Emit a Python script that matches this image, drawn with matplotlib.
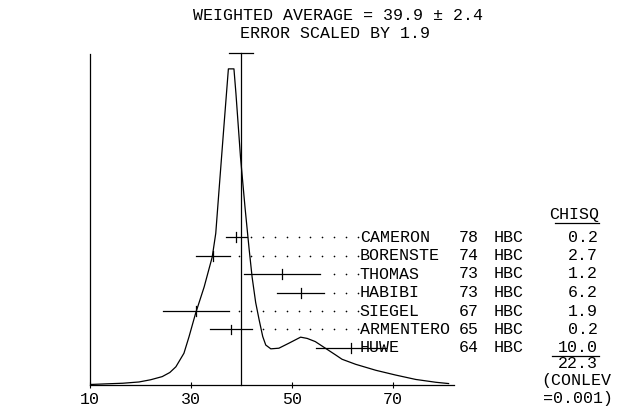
import numpy as np
import matplotlib
matplotlib.use("Agg")
import matplotlib.pyplot as plt
from matplotlib.lines import Line2D

# ---- data ----
names = ["CAMERON", "BORENSTE", "THOMAS", "HABIBI", "SIEGEL", "ARMENTERO", "HUWE"]
years = ["78", "74", "73", "73", "67", "65", "64"]
techs = ["HBC", "HBC", "HBC", "HBC", "HBC", "HBC", "HBC"]
values = [39.0, 34.4, 48.0, 51.7, 31.0, 37.9, 61.7]
errors = [2.0, 3.4, 7.6, 4.7, 6.5, 4.2, 6.9]
chisq = ["0.2", "2.7", "1.2", "6.2", "1.9", "0.2", "10.0"]
chisq_total = "22.3"
conlev = "0.001"
wavg = 39.9
werr = 2.4
scale_factor = 1.9
xticks = [10, 30, 50, 70]

# ideogram curve (relative height, peak = 1)
ideo_x = [10.0, 13.1, 16.5, 19.7, 22.0, 24.3, 25.8, 27.0, 28.6, 29.6, 30.9, 32.6,
          34.2, 34.9, 35.5, 36.5, 37.4, 38.5, 38.9, 39.8, 40.7, 41.5, 42.1, 42.8,
          43.5, 44.2, 44.8, 45.8, 47.4, 49.4, 51.7, 53.0, 54.6, 56.6, 58.6, 59.9,
          62.6, 66.6, 70.5, 74.5, 78.5, 81.0]
ideo_y = [0.0, 0.002, 0.004, 0.008, 0.015, 0.025, 0.038, 0.056, 0.099, 0.151, 0.225, 0.309,
          0.404, 0.479, 0.606, 0.815, 1.0, 1.0, 0.921, 0.72, 0.56, 0.43, 0.34, 0.26,
          0.204, 0.152, 0.125, 0.113, 0.115, 0.131, 0.150, 0.146, 0.136, 0.115, 0.094, 0.080,
          0.064, 0.045, 0.030, 0.016, 0.007, 0.003]

W, H = 621, 408
fig = plt.figure(figsize=(W / 100, H / 100), dpi=100)
FONT = "Liberation Mono"
FS = 12

# axes geometry in pixels
x0_px, x1_px = 90, 449.6
ytop_px, ybot_px = 54, 384.5
ax = fig.add_axes([x0_px / W, 1 - ybot_px / H, (x1_px - x0_px) / W, (ybot_px - ytop_px) / H])
ax.set_xlim(10, 81.2)
ax.set_ylim(0, 1)

# ideogram
peak = 0.955
ax.plot(ideo_x, np.array(ideo_y) * peak, color="black", lw=0.9)

# weighted average line with error "T"
ax.plot([wavg, wavg], [0, 1.003], color="black", lw=0.9, clip_on=False)
ax.plot([wavg - werr, wavg + werr], [1.003, 1.003], color="black", lw=0.9, clip_on=False)

# measurement rows
row_top = 0.445
row_step = 0.0557
dot_end = 63.0
dot_step = 2.34
text_x = 63.4
for i, (v, e) in enumerate(zip(values, errors)):
    y = row_top - i * row_step
    ax.plot([v - e, v + e], [y, y], color="black", lw=0.9)
    ax.plot([v, v], [y - 0.015, y + 0.015], color="black", lw=0.9)
    k = 0
    while True:
        dx = dot_end - k * dot_step
        if dx <= max(v + e + 0.8, wavg - 0.5):
            break
        ax.plot([dx], [y], marker="o", ms=1.2, color="black", mec="none")
        k += 1
    ax.text(text_x, y, names[i], fontsize=FS, family=FONT, va="center", ha="left")

# table columns (figure pixels)
def ftext(px, py, s, ha="left"):
    fig.text(px / W, 1 - py / H, s, fontsize=FS, family=FONT, va="center", ha=ha)

row_px = [237 + i * 18.5 for i in range(len(names))]
for i in range(len(names)):
    ftext(459, row_px[i], years[i])
    ftext(494, row_px[i], techs[i])
    ftext(598, row_px[i], chisq[i], ha="right")
ftext(599, 215, "CHISQ", ha="right")
fig.add_artist(Line2D([555 / W, 599 / W], [1 - 223 / H, 1 - 223 / H], color="black", lw=0.9))
fig.add_artist(Line2D([552 / W, 599 / W], [1 - 356 / H, 1 - 356 / H], color="black", lw=0.9))
ftext(598, 363, chisq_total, ha="right")
ftext(541, 381, "(CONLEV")
ftext(543, 399, "=" + conlev + ")")

# titles
fig.text(338 / W, 1 - 16 / H, f"WEIGHTED AVERAGE = {wavg} ± {werr}", fontsize=FS,
         family=FONT, ha="center", va="center")
fig.text(335 / W, 1 - 34 / H, f"ERROR SCALED BY {scale_factor}", fontsize=FS,
         family=FONT, ha="center", va="center")

# axes styling
for s in ["top", "right"]:
    ax.spines[s].set_visible(False)
ax.spines["left"].set_linewidth(0.9)
ax.spines["bottom"].set_linewidth(0.9)
ax.spines["bottom"].set_bounds(10, 82)
ax.set_yticks([])
ax.set_xticks(xticks)
ax.set_xticklabels([str(t) for t in xticks], family=FONT, fontsize=FS)
ax.tick_params(axis="x", direction="inout", length=5, width=0.8, pad=3)

fig.savefig("out.png", dpi=100)
